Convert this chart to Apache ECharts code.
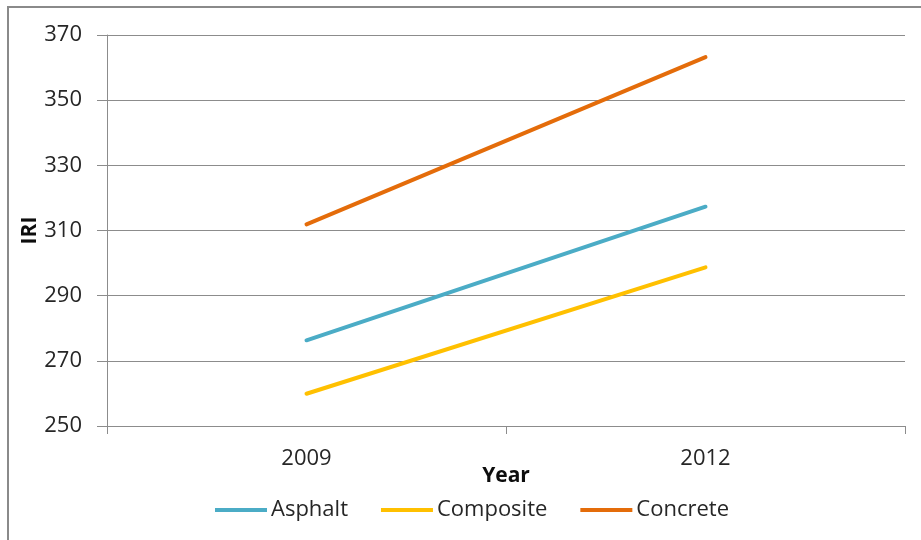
<!DOCTYPE html>
<html><head><meta charset="utf-8">
<script src="https://cdn.jsdelivr.net/npm/echarts@6/dist/echarts.min.js"></script>
<style>html,body{margin:0;padding:0;background:#fff}#c{width:921px;height:540px}</style>
</head><body><div id="c"></div>
<script>
var categories = ['2009', '2012'];
var asphalt = [276.3, 317.3];
var composite = [259.9, 298.7];
var concrete = [311.9, 363.2];
var yTicks = [250, 270, 290, 310, 330, 350, 370];

var FONT = '"Open Sans", "Liberation Sans", sans-serif';
var chart = echarts.init(document.getElementById('c'), null, {renderer: 'canvas'});
chart.setOption({
  animation: false,
  backgroundColor: '#fff',
  textStyle: {fontFamily: FONT},
  graphic: [{
    type: 'rect', silent: true,
    shape: {x: 8, y: 7, width: 940, height: 560},
    style: {fill: 'none', stroke: '#8a8a8a', lineWidth: 2}
  }],
  grid: {left: 107, right: 16, top: 35, bottom: 114, containLabel: false},
  legend: {
    left: 210, top: 494,
    icon: 'rect', itemWidth: 52, itemHeight: 4, itemGap: 33,
    textStyle: {fontFamily: FONT, fontSize: 22, color: '#262626', padding: [0, 0, 0, -1]},
    data: ['Asphalt', 'Composite', 'Concrete']
  },
  xAxis: {
    type: 'category', data: categories, boundaryGap: true,
    name: 'Year', nameLocation: 'middle', nameGap: 40, nameMoveOverlap: false,
    nameTextStyle: {fontFamily: FONT, fontSize: 21, fontWeight: 'bold', color: '#0d0d0d'},
    axisLine: {lineStyle: {color: '#8c8c8c', width: 1}},
    axisTick: {show: true, length: 8, lineStyle: {color: '#8c8c8c'}},
    axisLabel: {fontFamily: FONT, fontSize: 22, color: '#262626', margin: 22}
  },
  yAxis: {
    type: 'value', min: yTicks[0], max: yTicks[yTicks.length - 1], interval: 20,
    name: 'IRI', nameLocation: 'middle', nameGap: 66, nameRotate: 90, nameMoveOverlap: false,
    nameTextStyle: {fontFamily: FONT, fontSize: 21, fontWeight: 'bold', color: '#0d0d0d'},
    axisLine: {show: true, lineStyle: {color: '#8c8c8c', width: 1}},
    axisTick: {show: true, length: 10, inside: false, lineStyle: {color: '#8c8c8c'}},
    axisLabel: {fontFamily: FONT, fontSize: 22, color: '#262626', margin: 25},
    splitLine: {show: true, lineStyle: {color: '#8c8c8c', width: 1}}
  },
  series: [
    {name: 'Asphalt', type: 'line', data: asphalt, symbol: 'none', color: '#4BACC6',
     lineStyle: {width: 4, cap: 'round'}},
    {name: 'Composite', type: 'line', data: composite, symbol: 'none', color: '#FFC000',
     lineStyle: {width: 4, cap: 'round'}},
    {name: 'Concrete', type: 'line', data: concrete, symbol: 'none', color: '#E46C0A',
     lineStyle: {width: 4, cap: 'round'}}
  ]
});
</script></body></html>
